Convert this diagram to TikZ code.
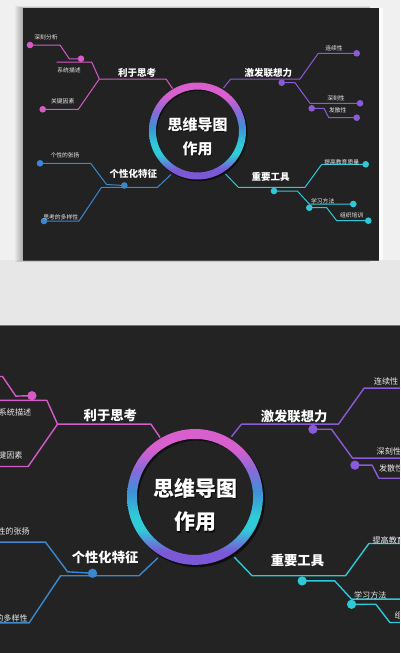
\documentclass[tikz,border=0pt]{standalone}
\usepackage{fontspec}
\setmainfont{Noto Sans CJK SC}
\usetikzlibrary{calc}
\definecolor{pagebg}{HTML}{F0F0F0}
\definecolor{bandbg}{HTML}{E7E7E7}
\definecolor{cardbg}{HTML}{222222}
\definecolor{darkbg}{HTML}{232323}
\definecolor{cpink}{HTML}{D65AC8}
\definecolor{cpurple}{HTML}{8B5AD8}
\definecolor{cblue}{HTML}{3B88D0}
\definecolor{ccyan}{HTML}{2EC8D8}
\definecolor{rpink}{HTML}{DA5FCE}
\definecolor{rviolet}{HTML}{8A6AD8}
\definecolor{rblue}{HTML}{3E90D8}
\definecolor{rcyan}{HTML}{2FCBD8}
\definecolor{rpurple}{HTML}{7B58D6}
\pgfdeclareverticalshading{ringshade}{100bp}{color(0bp)=(rpurple); color(25bp)=(rpurple); color(30bp)=(rpurple); color(38bp)=(rcyan); color(43bp)=(rcyan); color(52bp)=(rblue); color(60bp)=(rviolet); color(68bp)=(rpink); color(75bp)=(rpink); color(100bp)=(rpink)}
\newcommand\mmlw{1pt}
\tikzset{
  br/.style={line width=\mmlw, line join=round},
  dotn/.style={circle, fill, inner sep=0pt, minimum size=6.6pt},
  biglab/.style={text=white, font=\bfseries\fontsize{9.5}{11}\selectfont, inner sep=0pt},
  smalllab/.style={text=white!92!black, font=\fontsize{5.8}{7}\selectfont, inner sep=0pt},
  titlelab/.style={text=white, font=\bfseries\fontsize{15}{17}\selectfont, inner sep=0pt},
}
\newcommand\mindmap[1]{%
  % pink branch
  \coordinate (#1pR) at (172.5,-88.5);
  \coordinate (#1pJ) at (99.3,-79);
  \coordinate (#1pd1) at (81,-58.7);
  \coordinate (#1pd2) at (30,-45);
  \coordinate (#1pd3) at (42.7,-109.3);
  \coordinate (#1pE) at (56.7,-62);
  \draw[br,cpink] (#1pR) -- (166,-79) -- (#1pJ);
  \draw[br,cpink] (#1pJ) -- (91.7,-62) -- (#1pE);
  \draw[br,cpink] (#1pJ) -- (78.3,-109.3) -- (#1pd3);
  \draw[br,cpink] (#1pd1) -- (69.5,-59) -- (60,-45) -- (#1pd2);
  \foreach \d in {pd1,pd2,pd3} \node[dotn,fill=cpink] (#1\d n) at (#1\d) {};
  % purple branch
  \coordinate (#1mR) at (223.5,-88);
  \coordinate (#1md1) at (356.7,-53.3);
  \coordinate (#1md2) at (281.7,-82.7);
  \coordinate (#1md3) at (360,-103.3);
  \coordinate (#1md4) at (311.7,-108.3);
  \coordinate (#1md5) at (356.7,-117.7);
  \draw[br,cpurple] (#1mR) -- (230.7,-79) -- (300,-79) -- (318.3,-53.3) -- (#1md1);
  \draw[br,cpurple] (#1md2) -- (295,-82.7) -- (310,-103.3) -- (#1md3);
  \draw[br,cpurple] (#1md4) -- (324,-108.3) -- (328.8,-117.7) -- (#1md5);
  \foreach \d in {md1,md2,md3,md4,md5} \node[dotn,fill=cpurple] (#1\d n) at (#1\d) {};
  % blue branch
  \coordinate (#1bR) at (171,-174.5);
  \coordinate (#1bd1) at (44,-221);
  \coordinate (#1bd2) at (124.3,-185.5);
  \coordinate (#1bd3) at (40,-163.3);
  \draw[br,cblue] (#1bR) -- (157.5,-187.3) -- (101.5,-187.3) -- (79,-221) -- (#1bd1);
  \draw[br,cblue] (#1bd2) -- (106.5,-184.5) -- (90.7,-163.3) -- (#1bd3);
  \foreach \d in {bd1,bd2,bd3} \node[dotn,fill=cblue] (#1\d n) at (#1\d) {};
  % cyan branch
  \coordinate (#1cR) at (225.5,-174);
  \coordinate (#1cd1) at (365.7,-164.3);
  \coordinate (#1cd2) at (274,-191);
  \coordinate (#1cd3) at (353.3,-204);
  \coordinate (#1cd4) at (309.3,-207.7);
  \coordinate (#1cd5) at (368.3,-220.7);
  \draw[br,ccyan] (#1cR) -- (238.3,-187.3) -- (305,-187.3) -- (321.7,-164.3) -- (#1cd1);
  \draw[br,ccyan] (#1cd2) -- (297.3,-191) -- (309.3,-204) -- (#1cd3);
  \draw[br,ccyan] (#1cd4) -- (326.7,-207.7) -- (336.7,-220.7) -- (#1cd5);
  \foreach \d in {cd1,cd2,cd3,cd4,cd5} \node[dotn,fill=ccyan] (#1\d n) at (#1\d) {};
  % ring
  \coordinate (#1O) at (197.5,-131);
  \fill[black,opacity=0.6,even odd rule] ($(#1O)+(1.4,-1.6)$) circle[radius=48.6] ($(#1O)+(1.4,-1.6)$) circle[radius=41.8];
  \shade[shading=ringshade,even odd rule] (#1O) circle[radius=48.5] (#1O) circle[radius=41.5];
  % title
  \node[titlelab,text=black,opacity=0.7] at (198.3,-125.8) {思维导图};
  \node[titlelab,text=black,opacity=0.7] at (198.3,-149.8) {作用};
  \node[titlelab] (#1t1) at (197.5,-125) {思维导图};
  \node[titlelab] (#1t2) at (197.5,-149) {作用};
  % branch labels
  \node[biglab] (#1L1) at (137,-73) {利于思考};
  \node[biglab] (#1L2) at (268.3,-73.3) {激发联想力};
  \node[biglab] (#1L3) at (133.3,-174.3) {个性化特征};
  \node[biglab] (#1L4) at (270.7,-176.7) {重要工具};
  % small labels
  \node[smalllab] (#1s1) at (46,-37.7) {深刻分析};
  \node[smalllab] (#1s2) at (69,-70.7) {系统描述};
  \node[smalllab] (#1s3) at (62.7,-101.7) {关键因素};
  \node[smalllab] (#1s4) at (334,-48.3) {连续性};
  \node[smalllab] (#1s5) at (336,-98.3) {深刻性};
  \node[smalllab] (#1s6) at (337.7,-110.7) {发散性};
  \node[smalllab] (#1s7) at (65,-155.7) {个性的张扬};
  \node[smalllab] (#1s8) at (60.7,-217.7) {思考的多样性};
  \node[smalllab] (#1s9) at (341.7,-162.3) {提高教育质量};
  \node[smalllab] (#1s10) at (322.7,-201) {学习方法};
  \node[smalllab] (#1s11) at (351.7,-215.7) {组织培训};
}
\begin{document}
\begin{tikzpicture}[x=1pt,y=1pt]
  \useasboundingbox (0,0) rectangle (400,-653);
  % page background
  \fill[pagebg] (0,0) rectangle (400,-653);
  \fill[bandbg] (0,-260) rectangle (400,-325);
  % card shadow
  \foreach \k in {1,...,8} {
    \fill[black,opacity=0.035] (23-\k,-8.3+0.3*\k) rectangle (370,-260-0.3*\k);
  }
  \fill[white,opacity=0.8] (379,-8.3) rectangle (383,-260);
  % top card
  \fill[cardbg] (23,-8.3) rectangle (379,-260);
  \draw[black!70,line width=0.6pt] (23,-260) -- (379,-260);
  \begin{scope}
    \clip (23,-8.3) rectangle (379,-260);
    \mindmap{a}
  \end{scope}
  % zoomed lower view
  \fill[darkbg] (0,-325) rectangle (400,-653);
  \draw[black!55,line width=0.8pt] (0,-325.4) -- (400,-325.4);
  \begin{scope}
    \clip (0,-326) rectangle (400,-653);
    \renewcommand\mmlw{1.4pt}
    \begin{scope}[shift={(-81.5,-313.5)},scale=1.4,transform shape]
      \mindmap{b}
    \end{scope}
  \end{scope}
\end{tikzpicture}
\end{document}
